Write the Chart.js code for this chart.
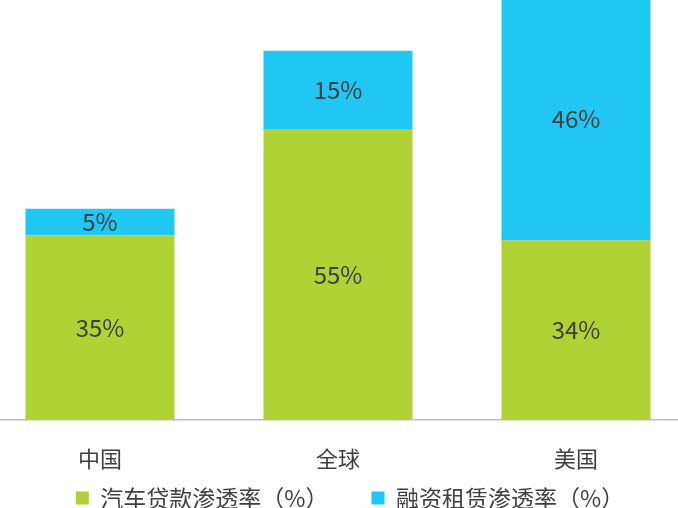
<!DOCTYPE html>
<html>
<head>
<meta charset="utf-8">
<script src="https://cdn.jsdelivr.net/npm/chart.js@4/dist/chart.umd.min.js"></script>
<style>
  html, body { margin: 0; padding: 0; background: #fff; overflow: hidden; }
  #wrap { position: absolute; left: -19px; top: -2px; width: 714px; height: 568px; }
</style>
</head>
<body>
<div id="wrap"><canvas id="c"></canvas></div>
<script>
// categories and values
var categories = ['中国', '全球', '美国'];
var loanRate = [35, 55, 34];
var leaseRate = [5, 15, 46];
var seriesNames = ['汽车贷款渗透率（%）', '融资租赁渗透率（%）'];

var font = '"Noto Sans CJK SC", "Noto Sans", sans-serif';

// draws the value in the middle of each bar segment
var barLabels = {
    id: 'barLabels',
    afterDatasetsDraw: function(chart){
        var ctx = chart.ctx;
        ctx.save();
        ctx.font = '24px ' + font;
        ctx.fillStyle = '#3f3f3f';
        ctx.textAlign = 'center';
        ctx.textBaseline = 'middle';
        chart.data.datasets.forEach(function(ds, i){
            chart.getDatasetMeta(i).data.forEach(function(bar, j){
                var mid = (bar.y + bar.base) / 2;
                ctx.fillText(ds.data[j] + '%', bar.x, mid);
            });
        });
        ctx.restore();
    }
};

// the legend needs wide gaps between items, which also makes it tall;
// pull it up under the axis labels and nudge it right
var legendNudge = {
    id: 'legendNudge',
    afterLayout: function(chart){
        var lg = chart.legend;
        var h = lg.height;
        lg.top = chart.chartArea.bottom + 24;
        lg.bottom = lg.top + h;
        lg.left += 12;
        lg.right += 12;
    }
};

new Chart(document.getElementById('c'), {
    type: 'bar',
    data: {
        labels: categories,
        datasets: [
            { label: seriesNames[0], data: loanRate, backgroundColor: '#B1D234' },
            { label: seriesNames[1], data: leaseRate, backgroundColor: '#1FC7F2' }
        ]
    },
    options: {
        responsive: true,
        maintainAspectRatio: false,
        animation: false,
        layout: { padding: 0 },
        datasets: { bar: { categoryPercentage: 1, barPercentage: 0.626 } },
        scales: {
            x: {
                stacked: true,
                grid: { display: false },
                border: { display: true, color: '#BDBDBD', width: 1.5 },
                ticks: { color: '#404040', font: { family: font, size: 22 }, padding: 18 }
            },
            y: {
                stacked: true,
                display: false,
                min: 0,
                max: 80
            }
        },
        plugins: {
            tooltip: { enabled: false },
            legend: {
                position: 'bottom',
                labels: {
                    color: '#404040',
                    font: { family: font, size: 23 },
                    boxWidth: 13,
                    boxHeight: 13,
                    padding: 43
                }
            }
        }
    },
    plugins: [barLabels, legendNudge]
});
</script>
</body>
</html>
